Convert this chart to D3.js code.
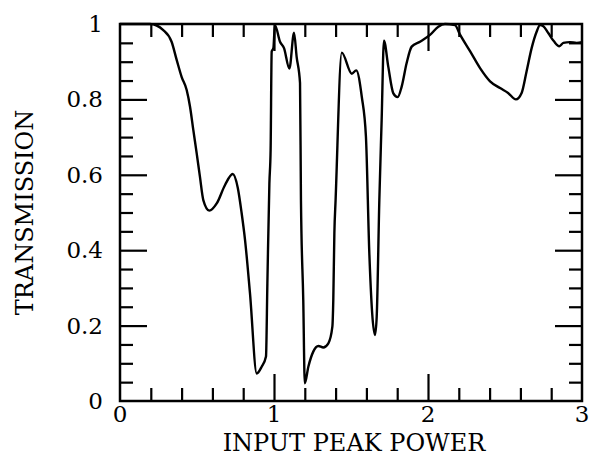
<!DOCTYPE html>
<html><head><meta charset="utf-8">
<script src="https://cdn.jsdelivr.net/npm/d3@7"></script>
<style>html,body{margin:0;padding:0;background:#fff}</style>
</head><body>
<svg id="c" width="591" height="464"></svg>
<script>
const powerValues = [0,0.1,0.195,0.281,0.335,0.368,0.40,0.433,0.455,0.476,0.498,0.519,0.541,0.58,0.628,0.682,0.732,0.765,0.79,0.812,0.844,0.888,0.92,0.948,0.957,0.97,0.978,0.985,0.996,1.006,1.039,1.065,1.10,1.13,1.147,1.169,1.175,1.19,1.20,1.223,1.255,1.288,1.32,1.353,1.379,1.385,1.392,1.40,1.44,1.505,1.534,1.57,1.597,1.619,1.656,1.667,1.684,1.699,1.714,1.742,1.775,1.803,1.829,1.861,1.894,1.948,2.013,2.067,2.11,2.175,2.208,2.273,2.338,2.403,2.468,2.52,2.571,2.608,2.64,2.673,2.706,2.727,2.749,2.781,2.818,2.853,2.879,2.922,2.965,3.0];
const transmissionValues = [1,1,1,0.984,0.953,0.905,0.86,0.825,0.78,0.719,0.657,0.595,0.533,0.505,0.524,0.573,0.602,0.565,0.498,0.427,0.286,0.073,0.091,0.118,0.312,0.577,0.666,0.927,0.936,0.997,0.953,0.936,0.882,0.977,0.913,0.843,0.533,0.268,0.047,0.091,0.131,0.146,0.142,0.153,0.197,0.268,0.445,0.533,0.924,0.868,0.877,0.807,0.701,0.392,0.175,0.224,0.533,0.745,0.956,0.887,0.816,0.806,0.834,0.896,0.94,0.953,0.971,0.993,1.0,0.997,0.972,0.928,0.883,0.848,0.83,0.817,0.8,0.817,0.874,0.936,0.98,0.997,0.994,0.976,0.954,0.941,0.95,0.952,0.95,0.952];
const xTickLabels = [0,1,2,3];
const yTickLabels = [0,0.2,0.4,0.6,0.8,1];
const xMinorTicks = [0.2,0.4,0.6,0.8,1.2,1.4,1.6,1.8,2.2,2.4,2.6,2.8];
const xMajorTicks = [1,2];
const yMinorTicks = [0.05,0.1,0.15,0.25,0.3,0.35,0.45,0.5,0.55,0.65,0.7,0.75,0.85,0.9,0.95];
const yMajorTicks = [0.2,0.4,0.6,0.8];

const L=120,R=582,T=24,B=401;
const svg=d3.select("#c");
const x=d3.scaleLinear().domain([0,3]).range([L,R]);
const y=d3.scaleLinear().domain([0,1]).range([B,T]);
const font="'DejaVu Serif','Liberation Serif',serif";

function tickGroup(axisFn, scale, vals, size, tr){
  const g=svg.append("g").attr("transform",tr)
    .call(axisFn(scale).tickValues(vals).tickSize(size).tickFormat(""));
  g.select(".domain").remove();
  g.selectAll("line").attr("stroke","#000").attr("stroke-width",2.2);
}
tickGroup(d3.axisBottom,x,xMinorTicks,-13,`translate(0,${B})`);
tickGroup(d3.axisBottom,x,xMajorTicks,-27,`translate(0,${B})`);
tickGroup(d3.axisTop,x,xMinorTicks,-13,`translate(0,${T})`);
tickGroup(d3.axisTop,x,xMajorTicks,-27,`translate(0,${T})`);
tickGroup(d3.axisLeft,y,yMinorTicks,-13,`translate(${L},0)`);
tickGroup(d3.axisLeft,y,yMajorTicks,-27,`translate(${L},0)`);
tickGroup(d3.axisRight,y,yMinorTicks,-13,`translate(${R},0)`);
tickGroup(d3.axisRight,y,yMajorTicks,-27,`translate(${R},0)`);

svg.append("rect").attr("x",L).attr("y",T).attr("width",R-L).attr("height",B-T)
  .attr("fill","none").attr("stroke","#000").attr("stroke-width",2.5);

const data=powerValues.map((p,i)=>[p,transmissionValues[i]]);
svg.append("path").datum(data)
  .attr("d",d3.line().x(d=>x(d[0])).y(d=>y(d[1])).curve(d3.curveMonotoneX))
  .attr("fill","none").attr("stroke","#000").attr("stroke-width",2.4).attr("stroke-linejoin","round");

svg.append("g").selectAll("text").data(xTickLabels).join("text")
  .attr("x",d=>x(d)).attr("y",B+21).attr("text-anchor","middle")
  .attr("font-family",font).attr("font-size",23).text(d=>d);
svg.append("g").selectAll("text").data(yTickLabels).join("text")
  .attr("x",L-17).attr("y",d=>y(d)+8).attr("text-anchor","end")
  .attr("font-family",font).attr("font-size",23).text(d=>d===0?"0":d===1?"1":d.toFixed(1));

svg.append("text").attr("x",354).attr("y",451).attr("text-anchor","middle")
  .attr("font-family",font).attr("font-size",24).text("INPUT PEAK POWER");
svg.append("text").attr("transform",`translate(33,${(T+B)/2}) rotate(-90)`)
  .attr("text-anchor","middle").attr("font-family",font).attr("font-size",24).text("TRANSMISSION");
</script>
</body></html>
